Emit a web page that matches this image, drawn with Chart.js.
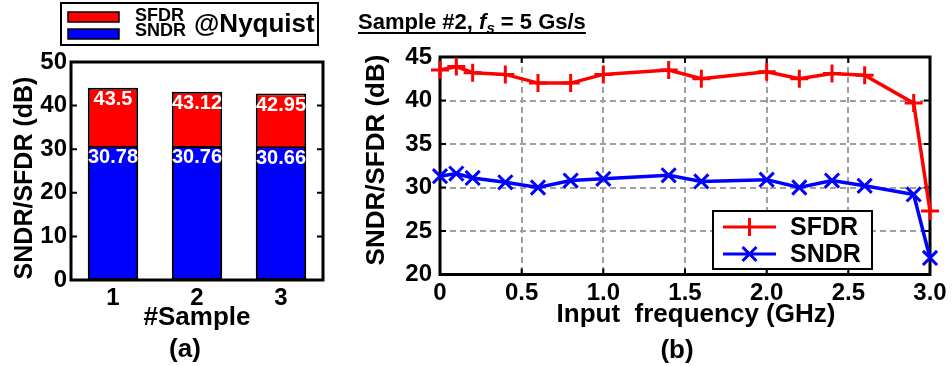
<!DOCTYPE html>
<html>
<head>
<meta charset="utf-8">
<script src="https://cdn.jsdelivr.net/npm/chart.js@4.4.1/dist/chart.umd.min.js"></script>
<style>
  html, body { margin: 0; padding: 0; background: #fff; }
  #wrap { position: relative; width: 952px; height: 366px; overflow: hidden; }
  #left { position: absolute; left: 0; top: 0; }
  #right { position: absolute; left: 330px; top: 0; }
</style>
</head>
<body>
<div id="wrap">
  <canvas id="left" width="330" height="366"></canvas>
  <canvas id="right" width="622" height="366"></canvas>
</div>
<script>
// (a) SNDR / SFDR at Nyquist for each sample
const samples = ["1", "2", "3"];
const sfdrBars = [44.1, 43.2, 42.8];
const sndrBars = [30.78, 30.76, 30.66];
const sfdrText = ["43.5", "43.12", "42.95"];
const sndrText = ["30.78", "30.76", "30.66"];

// (b) sample #2, fs = 5 Gs/s, sweep over input frequency
const freqGHz = [0, 0.1, 0.2, 0.4, 0.6, 0.8, 1.0, 1.4, 1.6, 2.0, 2.2, 2.4, 2.6, 2.9, 3.0];
const sfdrSweep = [43.5, 43.9, 43.2, 43.0, 42.0, 42.0, 43.0, 43.5, 42.5, 43.3, 42.5, 43.1, 42.9, 39.7, 27.3];
const sndrSweep = [31.3, 31.6, 31.1, 30.6, 30.0, 30.8, 31.0, 31.4, 30.7, 30.9, 30.0, 30.8, 30.2, 29.2, 21.9];
const xTickLabels = ["0", "0.5", "1.0", "1.5", "2.0", "2.5", "3.0"];

const FONT = "'Liberation Sans', Arial, sans-serif";
const bold = (size) => ({ family: FONT, size: size, weight: "bold" });

Chart.defaults.font.family = FONT;
Chart.defaults.color = "#000";
Chart.defaults.animation = false;
Chart.defaults.plugins.legend.display = false;
Chart.defaults.plugins.tooltip.enabled = false;

function txt(ctx, s, x, y, size, align, rot, color) {
  ctx.save();
  ctx.translate(x, y);
  if (rot) ctx.rotate(rot);
  ctx.font = `bold ${size}px ${FONT}`;
  ctx.fillStyle = color || "#000";
  ctx.textAlign = align || "center";
  ctx.textBaseline = "middle";
  ctx.fillText(s, 0, 0);
  ctx.restore();
}

// black box round the plot area, with the ticks pointing inwards
const boxTicks = {
  id: "boxTicks",
  beforeDatasetsDraw(chart, args, opts) {
    const { ctx, chartArea: a, scales } = chart;
    const len = 6;
    ctx.save();
    ctx.strokeStyle = "#000";
    ctx.lineWidth = 2;
    ctx.beginPath();
    scales.y.ticks.forEach((t) => {
      const y = scales.y.getPixelForValue(t.value);
      ctx.moveTo(a.left, y);
      ctx.lineTo(a.left + len, y);
      ctx.moveTo(a.right, y);
      ctx.lineTo(a.right - len, y);
    });
    if (opts.xTicks) {
      scales.x.ticks.forEach((t) => {
        const x = scales.x.getPixelForValue(t.value);
        ctx.moveTo(x, a.bottom);
        ctx.lineTo(x, a.bottom - len);
        ctx.moveTo(x, a.top);
        ctx.lineTo(x, a.top + len);
      });
    }
    ctx.stroke();
    ctx.lineWidth = 3;
    ctx.strokeRect(a.left, a.top, a.right - a.left, a.bottom - a.top);
    ctx.restore();
  },
};

const leftDecor = {
  id: "leftDecor",
  afterDraw(chart) {
    const { ctx, chartArea: a } = chart;
    // values written inside the bars
    const sndrMeta = chart.getDatasetMeta(0);
    const sfdrMeta = chart.getDatasetMeta(1);
    sfdrMeta.data.forEach((bar, i) => {
      txt(ctx, sfdrText[i], bar.x, bar.y + 12, 20, "center", 0, "#fff");
    });
    sndrMeta.data.forEach((bar, i) => {
      txt(ctx, sndrText[i], bar.x, bar.y + 12, 20, "center", 0, "#fff");
    });
    // axis titles
    txt(ctx, "SNDR/SFDR (dB)", 25, 178, 25, "center", -Math.PI / 2);
    txt(ctx, "#Sample", (a.left + a.right) / 2, 318, 26);
    txt(ctx, "(a)", 185, 350, 26);
    // legend box
    ctx.save();
    ctx.fillStyle = "#fff";
    ctx.fillRect(61, 3, 257, 42);
    ctx.strokeStyle = "#000";
    ctx.lineWidth = 2;
    ctx.strokeRect(61, 3, 257, 42);
    ctx.lineWidth = 1.5;
    ctx.fillStyle = "#ff0000";
    ctx.fillRect(68, 12, 51, 10);
    ctx.strokeRect(68, 12, 51, 10);
    ctx.fillStyle = "#0000ff";
    ctx.fillRect(68, 29, 51, 10);
    ctx.strokeRect(68, 29, 51, 10);
    ctx.restore();
    txt(ctx, "SFDR", 135, 16, 18, "left");
    txt(ctx, "SNDR", 135, 31, 18, "left");
    ctx.save();
    ctx.font = `bold 26px ${FONT}`;
    ctx.fillStyle = "#000";
    ctx.textBaseline = "alphabetic";
    ctx.fillText("@Nyquist", 194, 32);
    ctx.restore();
  },
};

function plus(ctx, x, y, r) {
  ctx.moveTo(x - r, y);
  ctx.lineTo(x + r, y);
  ctx.moveTo(x, y - r);
  ctx.lineTo(x, y + r);
}
function cross(ctx, x, y, r) {
  ctx.moveTo(x - r, y - r);
  ctx.lineTo(x + r, y + r);
  ctx.moveTo(x - r, y + r);
  ctx.lineTo(x + r, y - r);
}

const rightDecor = {
  id: "rightDecor",
  afterDraw(chart) {
    const { ctx } = chart;
    // header, underlined
    ctx.save();
    ctx.fillStyle = "#000";
    ctx.textBaseline = "alphabetic";
    ctx.textAlign = "left";
    let x = 28;
    const parts = [
      ["Sample #2, ", "bold", 22, 0],
      ["f", "italic bold", 22, 0],
      ["s", "italic bold", 15, 4],
      [" = 5 Gs/s", "bold", 22, 0],
    ];
    parts.forEach(([s, style, size, dy]) => {
      ctx.font = `${style} ${size}px ${FONT}`;
      ctx.fillText(s, x, 29 + dy);
      x += ctx.measureText(s).width;
    });
    ctx.strokeStyle = "#000";
    ctx.lineWidth = 2;
    ctx.beginPath();
    ctx.moveTo(28, 33);
    ctx.lineTo(x, 33);
    ctx.stroke();
    ctx.restore();

    txt(ctx, "SNDR/SFDR (dB)", 47, 160, 26, "center", -Math.PI / 2);
    txt(ctx, "Input  frequency (GHz)", 366, 315, 26);
    txt(ctx, "(b)", 347, 351, 26);

    // legend
    ctx.save();
    ctx.fillStyle = "#fff";
    ctx.fillRect(383, 211, 159, 58);
    ctx.strokeStyle = "#000";
    ctx.lineWidth = 2;
    ctx.strokeRect(383, 211, 159, 58);
    ctx.lineWidth = 3;
    ctx.strokeStyle = "#ff0000";
    ctx.beginPath();
    ctx.moveTo(393, 227);
    ctx.lineTo(446, 227);
    plus(ctx, 419.5, 227, 9);
    ctx.stroke();
    ctx.strokeStyle = "#0000ff";
    ctx.beginPath();
    ctx.moveTo(393, 254);
    ctx.lineTo(446, 254);
    cross(ctx, 419.5, 254, 7);
    ctx.stroke();
    ctx.restore();
    txt(ctx, "SFDR", 460, 228, 25, "left");
    txt(ctx, "SNDR", 460, 255, 25, "left");
  },
};

new Chart(document.getElementById("left"), {
  type: "bar",
  data: {
    labels: samples,
    datasets: [
      {
        label: "SNDR",
        data: sndrBars,
        backgroundColor: "#0000ff",
        borderColor: "#000",
        borderWidth: 2,
        borderSkipped: false,
        grouped: false,
        barPercentage: 0.6,
        categoryPercentage: 1,
      },
      {
        label: "SFDR",
        data: sfdrBars,
        backgroundColor: "#ff0000",
        borderColor: "#000",
        borderWidth: 2,
        borderSkipped: false,
        grouped: false,
        barPercentage: 0.6,
        categoryPercentage: 1,
      },
    ],
  },
  options: {
    responsive: false,
    layout: { padding: { left: 0, top: 62, right: 7, bottom: 0 } },
    scales: {
      x: {
        grid: { display: false, drawTicks: false },
        border: { display: false },
        ticks: { font: bold(24), padding: 4 },
        afterFit: (s) => { s.height = 86; },
      },
      y: {
        min: 0,
        max: 50,
        grid: { display: false, drawTicks: false },
        border: { display: false },
        ticks: { stepSize: 10, font: bold(24), padding: 4 },
        afterFit: (s) => { s.width = 71; },
      },
    },
    plugins: { boxTicks: { xTicks: false } },
  },
  plugins: [boxTicks, leftDecor],
});

new Chart(document.getElementById("right"), {
  type: "line",
  data: {
    datasets: [
      {
        label: "SFDR",
        data: freqGHz.map((f, i) => ({ x: f, y: sfdrSweep[i] })),
        borderColor: "#ff0000",
        borderWidth: 3.5,
        pointStyle: "cross",
        pointRadius: 9,
        pointBorderWidth: 3,
        pointBorderColor: "#ff0000",
        tension: 0,
        clip: false,
      },
      {
        label: "SNDR",
        data: freqGHz.map((f, i) => ({ x: f, y: sndrSweep[i] })),
        borderColor: "#0000ff",
        borderWidth: 3.5,
        pointStyle: "crossRot",
        pointRadius: 10,
        pointBorderWidth: 3,
        pointBorderColor: "#0000ff",
        tension: 0,
        clip: false,
      },
    ],
  },
  options: {
    responsive: false,
    layout: { padding: { left: 0, top: 57, right: 22, bottom: 0 } },
    scales: {
      x: {
        type: "linear",
        min: 0,
        max: 3,
        grid: { color: "#a0a0a0", lineWidth: 2, drawTicks: false },
        border: { display: false, dash: [6, 4] },
        ticks: {
          stepSize: 0.5,
          font: bold(24),
          padding: 4,
          callback: (v, i) => xTickLabels[i],
        },
        afterFit: (s) => { s.height = 91.5; },
      },
      y: {
        min: 20,
        max: 45,
        grid: { color: "#a0a0a0", lineWidth: 2, drawTicks: false },
        border: { display: false, dash: [6, 4] },
        ticks: { stepSize: 5, font: bold(24), padding: 8 },
        afterFit: (s) => { s.width = 110; },
      },
    },
    plugins: { boxTicks: { xTicks: true } },
  },
  plugins: [boxTicks, rightDecor],
});
</script>
</body>
</html>
